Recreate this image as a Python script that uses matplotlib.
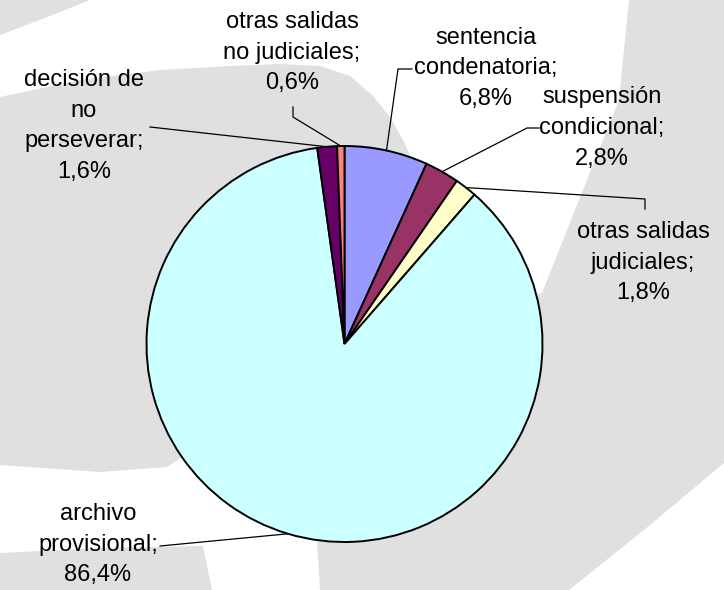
import numpy as np
import matplotlib
matplotlib.use("Agg")
import matplotlib.pyplot as plt
from matplotlib.patches import Polygon

# ── data ──────────────────────────────────────────
categories = [
    "sentencia\ncondenatoria;",
    "suspensión\ncondicional;",
    "otras salidas\njudiciales;",
    "archivo\nprovisional;",
    "decisión de\nno\nperseverar;",
    "otras salidas\nno judiciales;",
]
shares = [6.8, 2.8, 1.8, 86.4, 1.6, 0.6]
share_labels = ["6,8%", "2,8%", "1,8%", "86,4%", "1,6%", "0,6%"]
colors = ["#9999FF", "#993366", "#FFFFCC", "#CCFFFF", "#660066", "#FF8080"]

# label centres and leader-line elbows, in pixels (y down)
label_pos = [(486, 68), (602, 128), (643, 263), (98, 545), (84, 126), (292, 53)]
leader_pts = [
    [(412, 69), (398, 69)],
    [(539, 128), (527, 128)],
    [(645, 209), (645, 199)],
    [(160, 546)],
    [(150, 127)],
    [(293, 107), (293, 117)],
]

W, H = 724, 590
fig = plt.figure(figsize=(W / 100, H / 100), dpi=100)
fig.patch.set_facecolor("white")

# background watermark
bg = fig.add_axes([0, 0, 1, 1], zorder=0)
bg.set_xlim(0, W)
bg.set_ylim(H, 0)
bg.axis("off")
gray = "#e0e0e0"
shapes = [
    [(0, 0), (90, 0), (45, 18), (0, 35)],
    [(0, 97), (80, 80), (160, 70), (230, 66), (280, 64), (320, 66), (350, 76),
     (373, 96), (390, 117), (403, 140), (412, 160), (345, 344), (185, 455),
     (167, 467), (100, 472), (0, 465)],
    [(629, 0), (724, 0), (724, 463), (650, 525), (569, 590), (320, 590),
     (317, 540), (345, 344), (542, 293), (579, 200), (619, 100)],
    [(0, 553), (100, 548), (203, 546), (212, 590), (0, 590)],
]
for pts in shapes:
    bg.add_patch(Polygon(pts, closed=True, facecolor=gray, edgecolor="none"))

# pie
cx, cy, r = 344.5, 344, 198
ax = fig.add_axes([(cx - r) / W, (H - cy - r) / H, 2 * r / W, 2 * r / H], zorder=1)
wedges, _ = ax.pie(shares, colors=colors, startangle=90, counterclock=False,
                   wedgeprops=dict(edgecolor="black", linewidth=1.4))
ax.set_xlim(-1, 1)
ax.set_ylim(-1, 1)
ax.set_aspect("equal")
ax.patch.set_alpha(0)

# labels + leader lines
top = fig.add_axes([0, 0, 1, 1], zorder=2)
top.set_xlim(0, W)
top.set_ylim(H, 0)
top.axis("off")

for w, cat, lab, (tx, ty), elbow in zip(wedges, categories, share_labels,
                                        label_pos, leader_pts):
    mid = np.deg2rad((w.theta1 + w.theta2) / 2)
    px = cx + r * np.cos(mid)
    py = cy - r * np.sin(mid)
    xs = [p[0] for p in elbow] + [px]
    ys = [p[1] for p in elbow] + [py]
    top.plot(xs, ys, color="black", linewidth=0.9)
    top.text(tx, ty, f"{cat}\n{lab}", ha="center", va="center",
             fontsize=17, family="Liberation Sans", linespacing=1.5,
             color="black")

fig.savefig("out.png", dpi=100, facecolor="white")
